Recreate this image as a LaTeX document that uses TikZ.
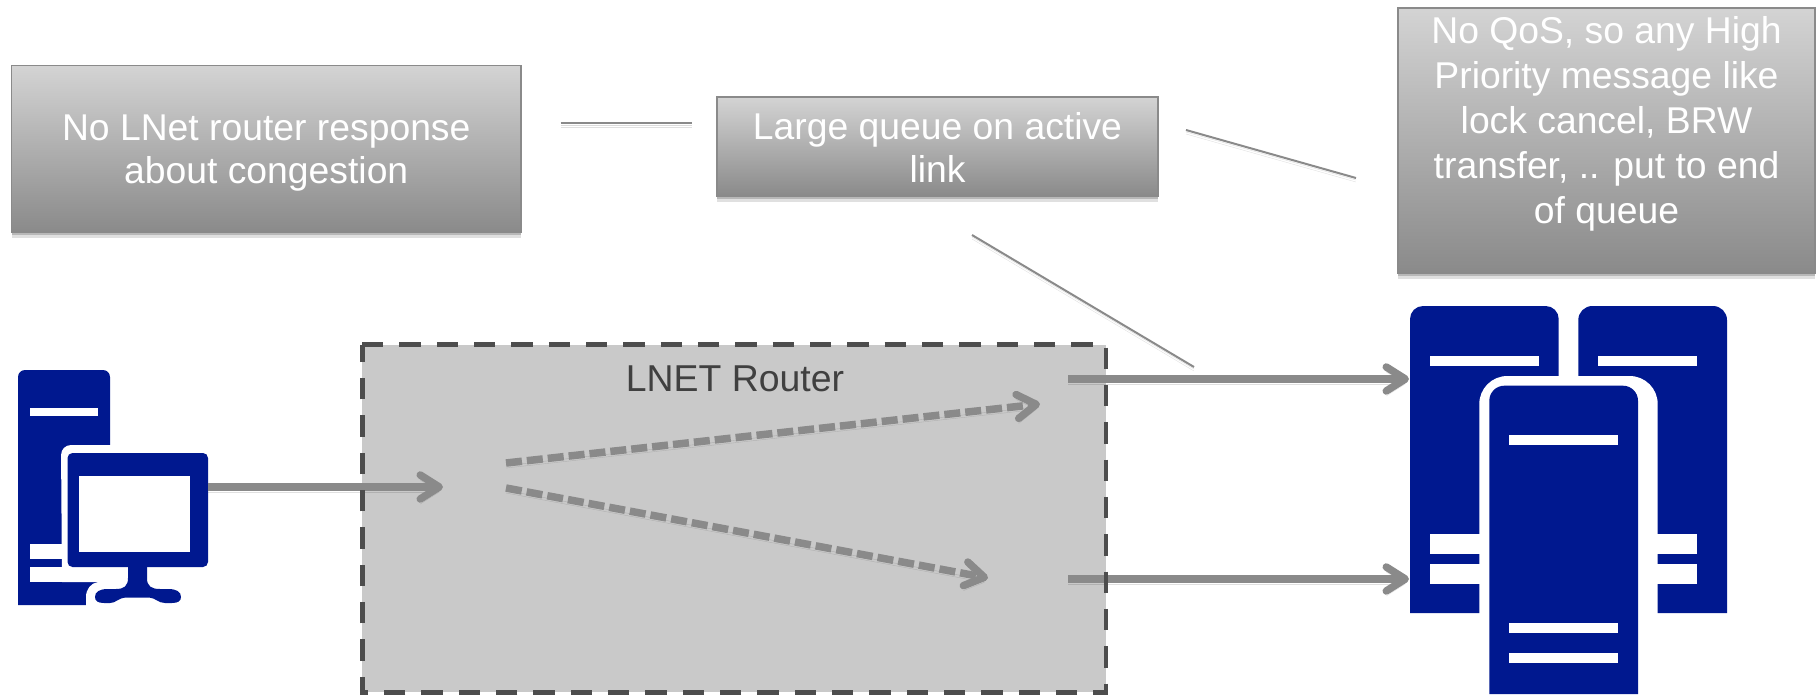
\documentclass[tikz,border=0pt]{standalone}
\usepackage{fontspec}
\setmainfont{Liberation Sans}
\usetikzlibrary{arrows.meta,shadows}
\definecolor{iconblue}{HTML}{00188F}
\definecolor{linegrey}{HTML}{8A8A8A}
\definecolor{routerfill}{HTML}{C9C9C9}
\definecolor{routeredge}{HTML}{4D4D4D}
\newcommand{\boxtext}[4]{\parbox[c][#1][c]{#2}{\centering\vspace{#3}#4}}
\tikzset{
  x=1pt,y=-1pt,
  gbox/.style={rectangle,draw=linegrey,line width=1.5pt,top color=black!17,bottom color=linegrey,
    text=white,font=\fontsize{37.3}{43}\selectfont,align=center,inner sep=0pt,
    drop shadow={shadow xshift=0pt,shadow yshift=-6pt,opacity=.12,fill=black},
    drop shadow={shadow xshift=0pt,shadow yshift=-3pt,opacity=.18,fill=black}},
  softshadow/.style={preaction={draw=black,opacity=.12,transform canvas={yshift=-#1}},
                     preaction={draw=black,opacity=.14,transform canvas={yshift=-#1/2}}},
  thinlink/.style={draw=linegrey,line width=2pt,softshadow=4pt},
  flow/.style={draw=linegrey,line width=7.5pt,softshadow=5pt,
     -{Straight Barb[length=19pt,width=24pt,line width=7.5pt,round]}},
  flowdash/.style={flow,dash pattern=on 16pt off 5pt},
  routerlabel/.style={text=black!75,font=\fontsize{37.4}{45}\selectfont,inner sep=0pt},
}
\begin{document}
\begin{tikzpicture}
\useasboundingbox (0,0) rectangle (1816,694);
% router background
\node[rectangle,fill=routerfill,inner sep=0pt,minimum width=743.4pt,minimum height=347pt] (router) at (734,518.5) {};
\node[routerlabel] (routertext) at (735,379) {LNET Router};
% callouts
\node[gbox,minimum width=509.5pt,minimum height=166.5pt] (cong) at (266.25,148.75) {\boxtext{160pt}{500pt}{9pt}{No LNet router response\\about congestion}};
\node[gbox,minimum width=441pt,minimum height=99pt] (queue) at (937.5,146.5) {\boxtext{95pt}{435pt}{2pt}{Large queue on active\\link}};
\node[gbox,font=\fontsize{37.3}{45}\selectfont] (qos) at (1606.5,140.5) {\parbox[c][265pt][t]{417pt}{\centering\vspace{8pt}No QoS, so any High\\Priority message like\\lock cancel, BRW\\transfer, .. put to end\\of queue}};
% pc icon
\fill[iconblue] (18,605) [rounded corners=7pt] -- (18,370) -- (110,370) [sharp corners] -- (110,605) -- cycle;
\fill[white] (30,408) rectangle (98,416);
\fill[white] (30,544) rectangle (62,559);
\fill[white] (30,567) rectangle (100,582);
\fill[white] (62,582) [rounded corners=10pt] -- (61,445) -- (215,445) [sharp corners] -- (215,582) -- cycle;
\fill[white] (98,582) .. controls (91,583) and (86,589) .. (86,597) -- (86,606) -- (115,606) -- (115,582) -- cycle;
\fill[iconblue,rounded corners=5pt] (67.5,453) rectangle (208,567);
\fill[white] (79,476) rectangle (190,552);
\fill[iconblue] (128,566) -- (128,578) .. controls (128,586) and (124,589) .. (116,589) -- (108,589)
  .. controls (99,589) and (95,592) .. (95,597) .. controls (95,601) and (98,603) .. (104,603) -- (110,603)
  .. controls (116,603) and (118,598) .. (126,597.5) -- (149,597.5)
  .. controls (156,598) and (158,603) .. (165,603) -- (172,603)
  .. controls (178,603) and (181,601) .. (181,597) .. controls (181,592) and (177,589) .. (168,589) -- (160,589)
  .. controls (151,589) and (147,586) .. (147,578) -- (147,566) -- cycle;
% server icon
\fill[iconblue] (1410,613) [rounded corners=13pt] -- (1410,306) -- (1558.7,306) [sharp corners] -- (1558.7,613) -- cycle;
\fill[iconblue] (1578.3,613) [rounded corners=14pt] -- (1578.3,306) -- (1727,306) [sharp corners] -- (1727,613) -- cycle;
\fill[white] (1429.7,356) rectangle (1539,366);
\fill[white] (1598,356) rectangle (1697.3,366);
\fill[white] (1429.7,534.3) rectangle (1500,554.3);
\fill[white] (1429.7,564) rectangle (1500,584);
\fill[white] (1640,534.3) rectangle (1697.3,554.3);
\fill[white] (1640,564) rectangle (1697.3,584);
\fill[white] (1479.3,694) [rounded corners=28pt] -- (1479.3,376) -- (1657.7,376) [sharp corners] -- (1657.7,694) -- cycle;
\fill[iconblue] (1489.3,694) [rounded corners=15pt] -- (1489.3,385.7) -- (1638,385.7) [sharp corners] -- (1638,694) -- cycle;
\fill[white] (1509,435.3) rectangle (1618.3,445.3);
\fill[white] (1509,623.3) rectangle (1618.3,633.3);
\fill[white] (1509,653.3) rectangle (1618.3,663.3);
% anchors for free connector ends
\coordinate (l1a) at (560.6,122.7);
\coordinate (l1b) at (692,122.7);
\coordinate (l2a) at (1186,130);
\coordinate (l2b) at (1356,178);
\coordinate (l3a) at (972,235);
\coordinate (l3b) at (1194,367);
\coordinate (pcout) at (208,487);
\coordinate (rin) at (443,487);
\coordinate (splita) at (506,463);
\coordinate (splitb) at (506,488);
\coordinate (upend) at (1040,404);
\coordinate (downend) at (988,578);
\coordinate (outa) at (1068,379);
\coordinate (outb) at (1068,579);
\coordinate (srva) at (1409,379);
\coordinate (srvb) at (1409,579);
% connectors
\draw[thinlink] (l1a) -- (l1b);
\draw[thinlink] (l2a) -- (l2b);
\draw[thinlink] (l3a) -- (l3b);
\draw[flow] (pcout) -- (rin);
\draw[flowdash] (splita) -- (upend);
\draw[flowdash] (splitb) -- (downend);
\draw[flow] (outa) -- (srva);
\draw[flow] (outb) -- (srvb);
% router outline, dashes start at the top left corner and run clockwise
\draw[routeredge,line width=4.8pt,dash pattern=on 21.33pt off 16pt]
  (router.north west) -- (router.north east) -- (router.south east) -- (router.south west) -- cycle;
\end{tikzpicture}
\end{document}
